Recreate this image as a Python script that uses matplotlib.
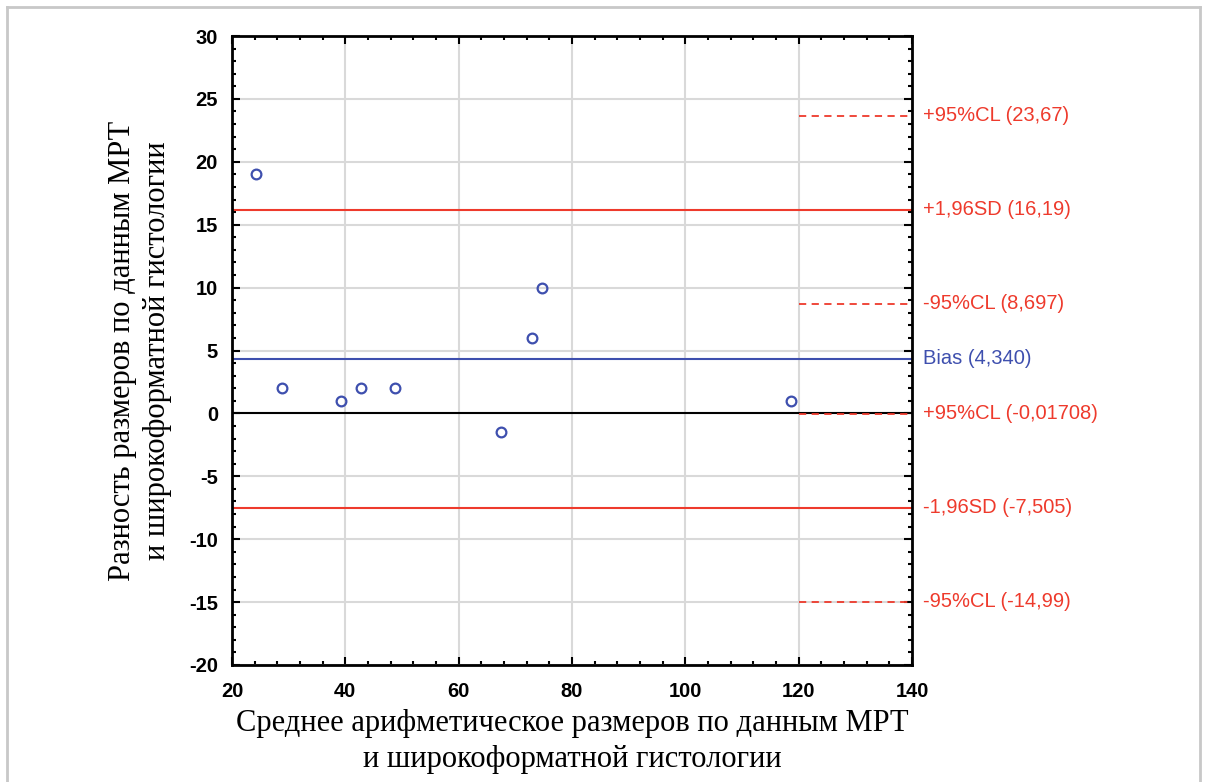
import numpy as np
import matplotlib.pyplot as plt
from matplotlib.ticker import MultipleLocator
from matplotlib.lines import Line2D

plt.rcParams['axes.unicode_minus'] = False

# Bland-Altman data
mean_vals = [24.2, 28.8, 39.2, 42.7, 48.8, 67.5, 72.9, 74.7, 118.7]
diff_vals = [19, 2, 1, 2, 2, -1.5, 6, 10, 1]

bias = 4.340
sd_hi = 16.19
sd_lo = -7.505
cl_vals = [23.67, 8.697, -0.01708, -14.99]

labels = ['+95%CL (23,67)', '+1,96SD (16,19)', '-95%CL (8,697)', 'Bias (4,340)',
          '+95%CL (-0,01708)', '-1,96SD (-7,505)', '-95%CL (-14,99)']
label_y = [23.67, 16.19, 8.697, 4.340, -0.01708, -7.505, -14.99]

red = '#ee3a2c'
blue = '#3e4fae'

fig = plt.figure(figsize=(12.08, 7.82), dpi=100)
ax = fig.add_axes([232 / 1208, 1 - 665 / 782, 680 / 1208, 629 / 782])

ax.set_xlim(20, 140)
ax.set_ylim(-20, 30)
ax.xaxis.set_major_locator(MultipleLocator(20))
ax.xaxis.set_minor_locator(MultipleLocator(4))
ax.yaxis.set_major_locator(MultipleLocator(5))
ax.yaxis.set_minor_locator(MultipleLocator(1))
ax.grid(True, which='major', color='#d9d9d9', lw=1.5, zorder=0)
ax.tick_params(which='both', direction='in', top=True, right=True, width=1.5)
ax.tick_params(which='major', length=6)
ax.tick_params(axis='x', which='major', pad=12)
ax.tick_params(axis='y', which='major', pad=10)
ax.tick_params(which='minor', length=3)
for lab in ax.get_xticklabels() + ax.get_yticklabels():
    lab.set_fontweight('bold')
    lab.set_fontsize(14.5)
    lab.set_family('Liberation Sans')
for sp in ax.spines.values():
    sp.set_linewidth(2)

# reference lines
ax.axhline(0, color='black', lw=1.5, zorder=2)
ax.axhline(bias, color=blue, lw=1.5, zorder=2)
ax.axhline(sd_hi, color=red, lw=1.5, zorder=2)
ax.axhline(sd_lo, color=red, lw=1.5, zorder=2)
for v in cl_vals:
    ax.plot([120, 140], [v, v], color=red, lw=1.3, ls=(0, (4, 3)), zorder=3)

ax.plot(mean_vals, diff_vals, 'o', mfc='none', mec=blue, mew=1.6, ms=7, zorder=4)

for t, y in zip(labels, label_y):
    c = blue if t.startswith('Bias') else red
    ax.text(1.016, y, t, transform=ax.get_yaxis_transform(), color=c,
            fontsize=14.5, va='center', ha='left', family='Liberation Sans')

ax.set_xlabel('Среднее арифметическое размеров по данным МРТ\nи широкоформатной гистологии',
              family='Liberation Serif', fontsize=22, labelpad=6, linespacing=1.3)
ax.set_ylabel('Разность размеров по данным МРТ\nи широкоформатной гистологии',
              family='Liberation Serif', fontsize=22, labelpad=12, linespacing=1.3)

# light frame around the figure
for xs, ys in [([7, 7], [0, 775]), ([7, 1200], [775, 775]), ([1200, 1200], [775, 0])]:
    fig.add_artist(Line2D(np.array(xs) / 1208, np.array(ys) / 782,
                          color='#c8c8c8', lw=2))

fig.savefig('out.png', dpi=100)
